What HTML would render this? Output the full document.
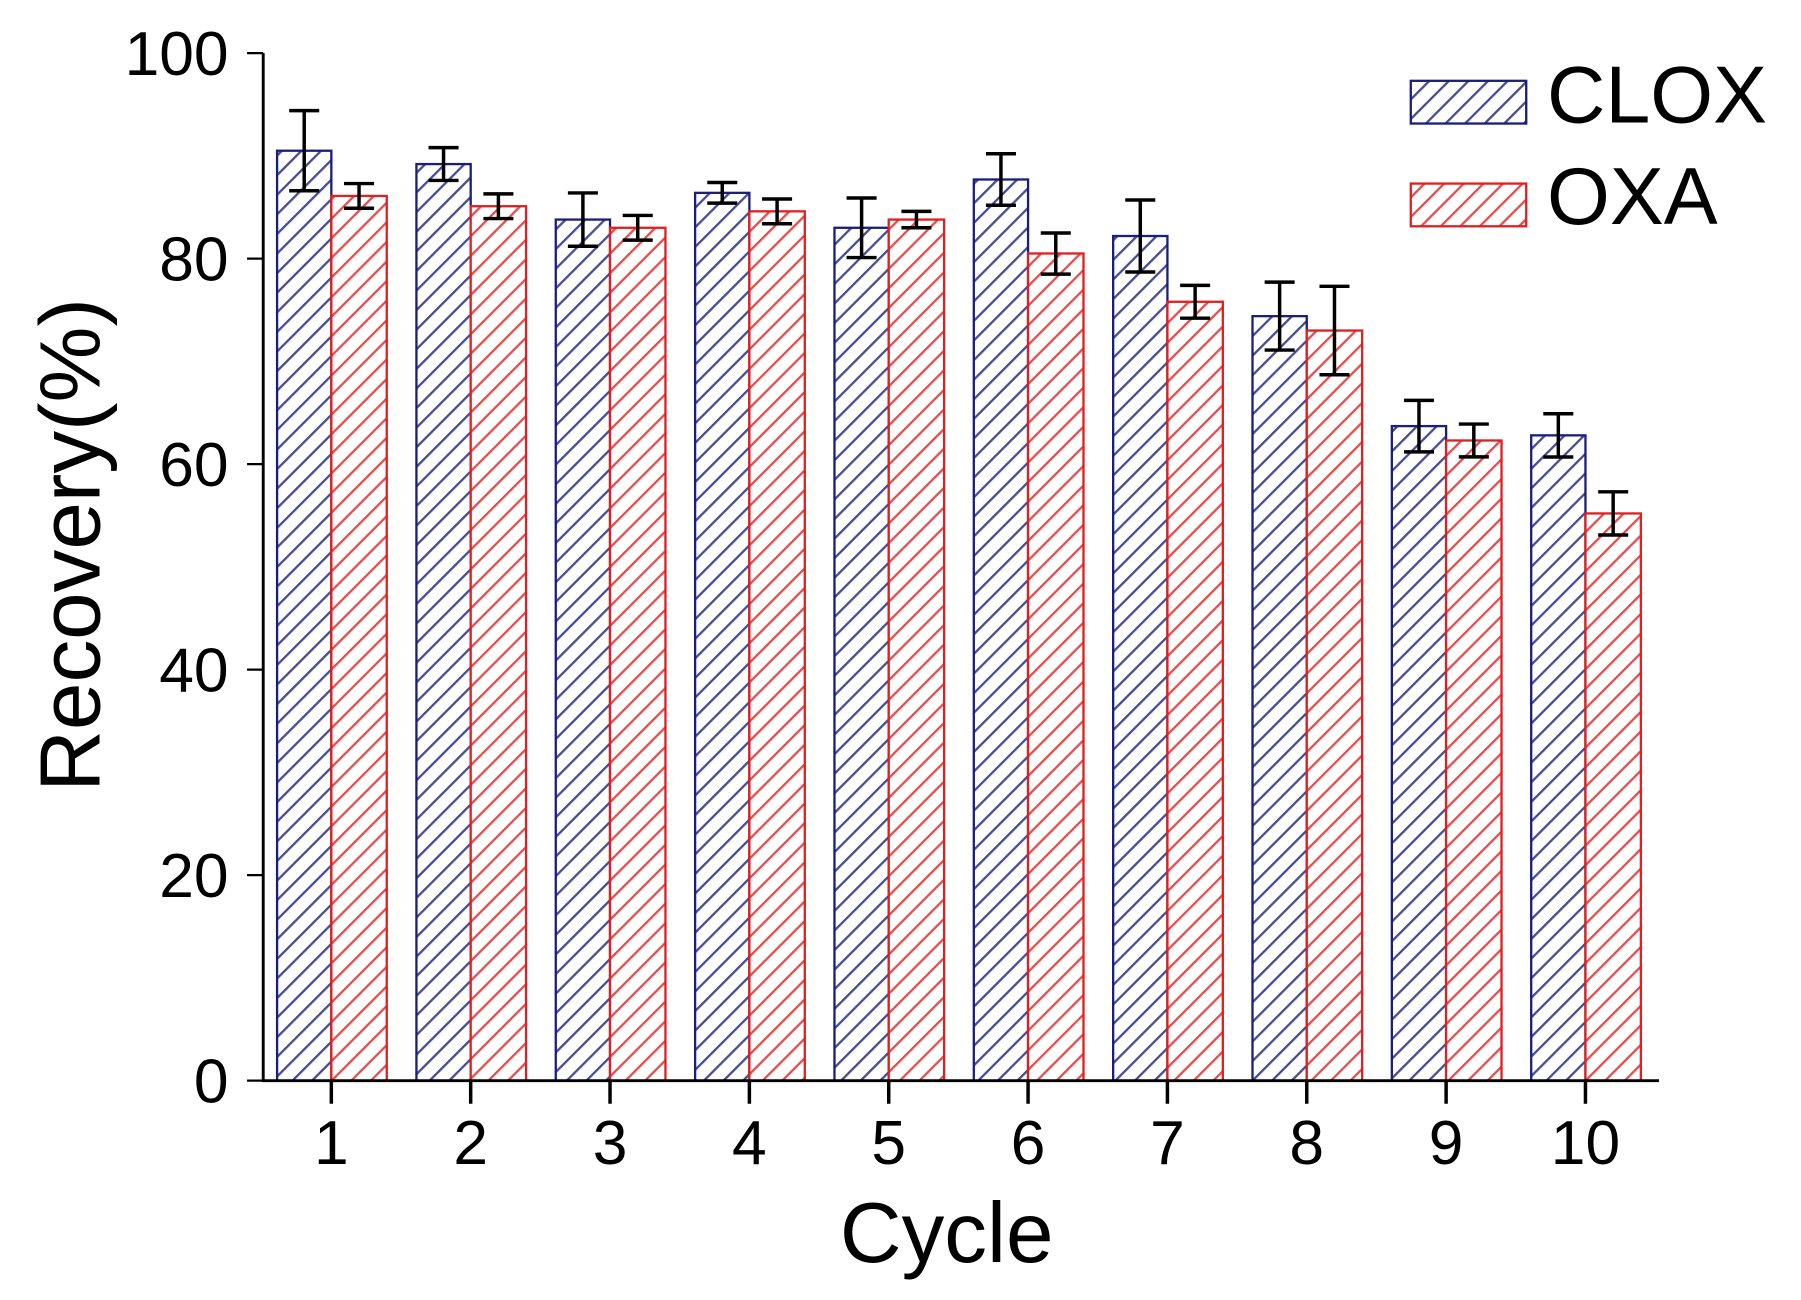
<!DOCTYPE html>
<html><head><meta charset="utf-8"><style>html,body{margin:0;padding:0;background:#fff}svg{display:block}</style></head>
<body>
<svg width="1801" height="1300" viewBox="0 0 1560 1126" preserveAspectRatio="none" xmlns="http://www.w3.org/2000/svg" font-family="Liberation Sans, Arial, sans-serif">
<defs>
<pattern id="hb" patternUnits="userSpaceOnUse" width="12" height="12" patternTransform="rotate(45)">
<rect width="12" height="12" fill="#fff"/><line x1="1" y1="0" x2="1" y2="12" stroke="#1a1f7a" stroke-width="2" opacity="0.8"/></pattern>
<pattern id="hr" patternUnits="userSpaceOnUse" width="12" height="12" patternTransform="rotate(45)">
<rect width="12" height="12" fill="#fff"/><line x1="1" y1="0" x2="1" y2="12" stroke="#e02020" stroke-width="2" opacity="0.8"/></pattern>
</defs>
<g stroke="#1a1f7a" stroke-width="2" fill="url(#hb)">
<rect x="240" y="130.55" width="47" height="805.45"/>
<rect x="360.7" y="142.12" width="47" height="793.88"/>
<rect x="481.4" y="190.18" width="47" height="745.82"/>
<rect x="602.1" y="167.04" width="47" height="768.96"/>
<rect x="722.8" y="197.3" width="47" height="738.7"/>
<rect x="843.5" y="155.47" width="47" height="780.53"/>
<rect x="964.2" y="204.42" width="47" height="731.58"/>
<rect x="1084.9" y="273.84" width="47" height="662.16"/>
<rect x="1205.6" y="369.07" width="47" height="566.93"/>
<rect x="1326.3" y="377.08" width="47" height="558.92"/>
</g>
<g stroke="#e02020" stroke-width="2" fill="url(#hr)">
<rect x="287" y="169.71" width="48" height="766.29"/>
<rect x="407.7" y="178.61" width="48" height="757.39"/>
<rect x="528.4" y="197.3" width="48" height="738.7"/>
<rect x="649.1" y="183.06" width="48" height="752.94"/>
<rect x="769.8" y="190.18" width="48" height="745.82"/>
<rect x="890.5" y="219.55" width="48" height="716.45"/>
<rect x="1011.2" y="261.38" width="48" height="674.62"/>
<rect x="1131.9" y="286.3" width="48" height="649.7"/>
<rect x="1252.6" y="381.53" width="48" height="554.47"/>
<rect x="1373.3" y="444.72" width="48" height="491.28"/>
</g>
<g stroke="#000" stroke-width="3" fill="none">
<path d="M263.5 95.85V165.25M250.5 95.85H276.5M250.5 165.25H276.5"/>
<path d="M311 159V180.4M298 159H324M298 180.4H324"/>
<path d="M384.2 127.9V156.3M371.2 127.9H397.2M371.2 156.3H397.2"/>
<path d="M431.7 167.9V189.3M418.7 167.9H444.7M418.7 189.3H444.7"/>
<path d="M504.9 167.1V213.3M491.9 167.1H517.9M491.9 213.3H517.9"/>
<path d="M552.4 186.6V208M539.4 186.6H565.4M539.4 208H565.4"/>
<path d="M625.6 158.1V175.9M612.6 158.1H638.6M612.6 175.9H638.6"/>
<path d="M673.1 172.4V193.8M660.1 172.4H686.1M660.1 193.8H686.1"/>
<path d="M746.3 171.5V223.1M733.3 171.5H759.3M733.3 223.1H759.3"/>
<path d="M793.8 183.1V197.3M780.8 183.1H806.8M780.8 197.3H806.8"/>
<path d="M867 133.2V177.8M854 133.2H880M854 177.8H880"/>
<path d="M914.5 201.8V237.4M901.5 201.8H927.5M901.5 237.4H927.5"/>
<path d="M987.7 173.2V235.6M974.7 173.2H1000.7M974.7 235.6H1000.7"/>
<path d="M1035.2 247.2V275.6M1022.2 247.2H1048.2M1022.2 275.6H1048.2"/>
<path d="M1108.4 244.4V303.2M1095.4 244.4H1121.4M1095.4 303.2H1121.4"/>
<path d="M1155.9 248V324.6M1142.9 248H1168.9M1142.9 324.6H1168.9"/>
<path d="M1229.1 346.8V391.4M1216.1 346.8H1242.1M1216.1 391.4H1242.1"/>
<path d="M1276.6 367.3V395.7M1263.6 367.3H1289.6M1263.6 395.7H1289.6"/>
<path d="M1349.8 358.4V395.8M1336.8 358.4H1362.8M1336.8 395.8H1362.8"/>
<path d="M1397.3 426V463.4M1384.3 426H1410.3M1384.3 463.4H1410.3"/>
<path d="M287 936v20M407.7 936v20M528.4 936v20M649.1 936v20M769.8 936v20M890.5 936v20M1011.2 936v20M1131.9 936v20M1252.6 936v20M1373.3 936v20"/>
</g>
<g stroke="#000" stroke-width="2">
<path d="M214 936H228M214 758H228M214 580H228M214 402H228M214 224H228M214 46H228"/>
</g>
<g font-size="54" text-anchor="middle">
<text x="287" y="1008">1</text><text x="407.7" y="1008">2</text><text x="528.4" y="1008">3</text><text x="649.1" y="1008">4</text><text x="769.8" y="1008">5</text><text x="890.5" y="1008">6</text><text x="1011.2" y="1008">7</text><text x="1131.9" y="1008">8</text><text x="1252.6" y="1008">9</text><text x="1373.3" y="1008">10</text>
</g>
<g font-size="54" text-anchor="end">
<text x="198" y="955">0</text><text x="198" y="777">20</text><text x="198" y="599">40</text><text x="198" y="421">60</text><text x="198" y="243">80</text><text x="198" y="65">100</text>
</g>
<line x1="228" y1="46" x2="228" y2="937" stroke="#000" stroke-width="2.5"/>
<line x1="227" y1="936" x2="1437" y2="936" stroke="#000" stroke-width="2.5"/>
<text x="820" y="1093" font-size="74" text-anchor="middle">Cycle</text>
<text transform="translate(86,472) rotate(-90)" font-size="74" text-anchor="middle">Recovery(%)</text>
<rect x="1222" y="70" width="100" height="37" fill="url(#hb)" stroke="#1a1f7a" stroke-width="2"/>
<rect x="1222" y="159" width="100" height="37" fill="url(#hr)" stroke="#e02020" stroke-width="2"/>
<text x="1340" y="106" font-size="70">CLOX</text>
<text x="1340" y="194" font-size="70">OXA</text>
</svg>
</body></html>
